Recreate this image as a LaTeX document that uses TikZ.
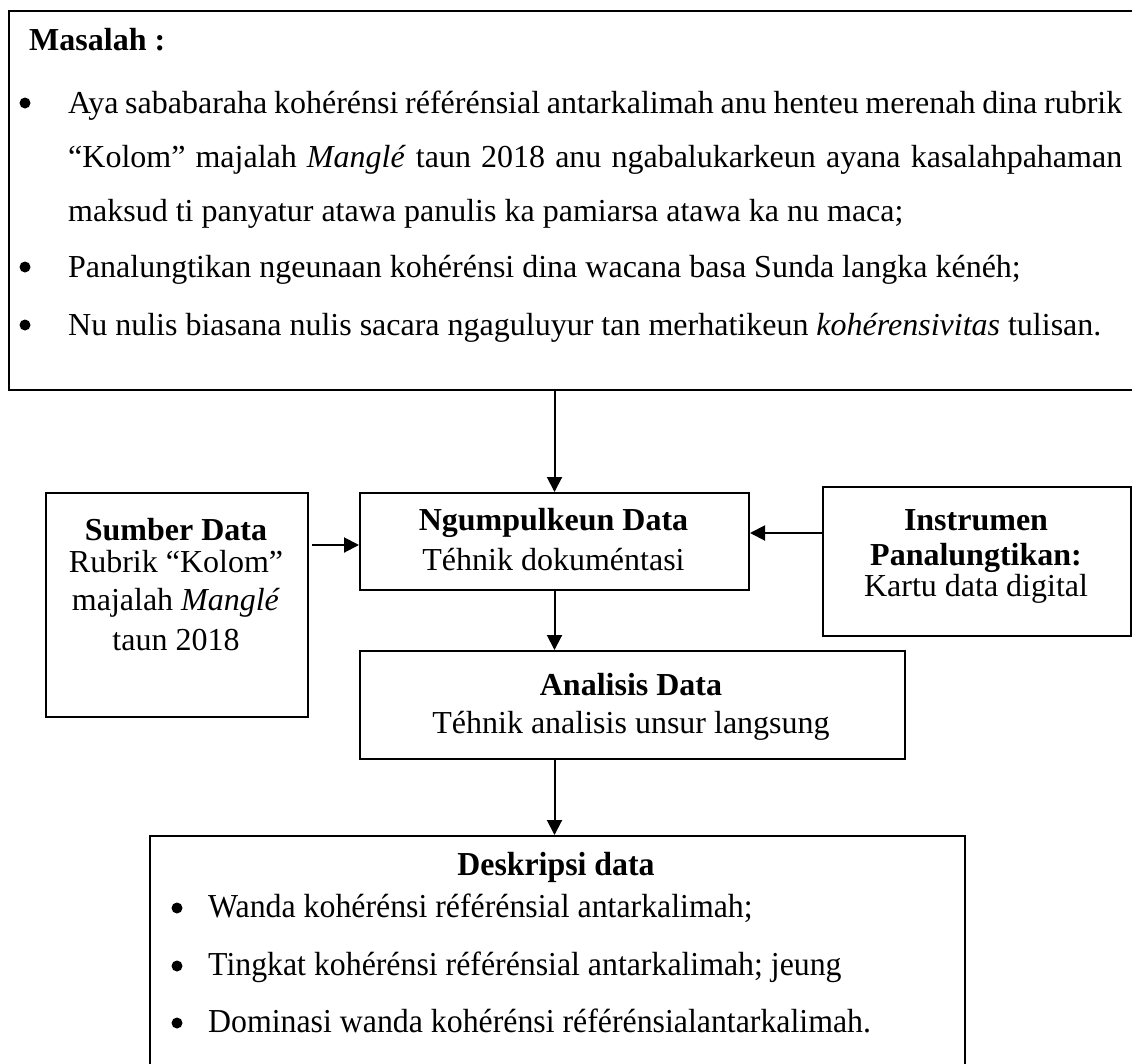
\documentclass[tikz,border=0pt]{standalone}
\usepackage{fontspec}
\setmainfont{Liberation Serif}
\newfontfamily\condfont[FakeStretch=0.95]{Liberation Serif}
\usetikzlibrary{arrows.meta,calc}
\begin{document}
\begin{tikzpicture}[x=1pt,y=-1pt,
  box/.style={draw, line width=2pt, inner sep=0pt, anchor=north west},
  txt/.style={inner sep=0pt, anchor=base west, font=\fontsize{32}{38}\selectfont},
  ctr/.style={txt, anchor=base},
  bld/.style={ctr, font=\fontsize{32}{38}\selectfont\bfseries},
  btxt/.style={txt, font=\condfont\fontsize{33.5}{40}\selectfont},
  dot/.style={circle, fill, inner sep=0pt, minimum size=11pt},
  arr/.style={line width=2pt, -{Triangle[length=15pt,width=15pt]}}]
\clip (0,0) rectangle (1132,1063);
\fill[white] (0,0) rectangle (1132,1063);
% boxes
\node[box, minimum width=1150, minimum height=379] (top) at (8,10) {};
\node[box, minimum width=262, minimum height=224] (sumber) at (45,492) {};
\node[box, minimum width=389, minimum height=97] (ngum) at (359,492) {};
\node[box, minimum width=308, minimum height=149] (inst) at (822,486) {};
\node[box, minimum width=545, minimum height=108] (anal) at (359,650) {};
\node[box, minimum width=815, minimum height=260] (desk) at (149,835) {};
% top box text
\node[txt, font=\fontsize{32}{38}\selectfont\bfseries] (t0) at (29,50) {Masalah :};
\node[dot] (b1) at (25,103) {};
\node[dot] (b2) at (25,267) {};
\node[dot] (b3) at (25,325) {};
\node[txt] (t1) at (68,113) {\makebox[1054pt][s]{Aya sababaraha kohérénsi référénsial antarkalimah anu henteu merenah dina rubrik}};
\node[txt] (t2) at (68,167) {\makebox[1054pt][s]{“Kolom” majalah \textit{Manglé} taun 2018 anu ngabalukarkeun ayana kasalahpahaman}};
\node[txt] (t3) at (68,221) {maksud ti panyatur atawa panulis ka pamiarsa atawa ka nu maca;};
\node[txt] (t4) at (68,277) {Panalungtikan ngeunaan kohérénsi dina wacana basa Sunda langka kénéh;};
\node[txt] (t5) at (68,335) {Nu nulis biasana nulis sacara ngaguluyur tan merhatikeun \textit{kohérensivitas} tulisan.};
% sumber
\node[bld] (s1) at (176,540) {Sumber Data};
\node[ctr] (s2) at (176,572) {Rubrik “Kolom”};
\node[ctr] (s3) at (176,610) {majalah \textit{Manglé}};
\node[ctr] (s4) at (176,650) {taun 2018};
% ngumpulkeun
\node[bld] (n1) at (553.5,530) {Ngumpulkeun Data};
\node[ctr] (n2) at (553.5,570) {Téhnik dokuméntasi};
% instrumen
\node[bld] (i1) at (976,530) {Instrumen};
\node[bld] (i2) at (976,565) {Panalungtikan:};
\node[ctr] (i3) at (976,596) {Kartu data digital};
% analisis
\node[bld] (a1) at (631,695) {Analisis Data};
\node[ctr] (a2) at (631,733) {Téhnik analisis unsur langsung};
% deskripsi
\node[ctr, font=\condfont\fontsize{33.5}{40}\selectfont\bfseries] (d0) at (556,875) {Deskripsi data};
\node[dot] (db1) at (177,908) {};
\node[dot] (db2) at (177,966) {};
\node[dot] (db3) at (177,1023) {};
\node[btxt] (d1) at (208,917) {Wanda kohérénsi référénsial antarkalimah;};
\node[btxt] (d2) at (208,975) {Tingkat kohérénsi référénsial antarkalimah; jeung};
\node[btxt] (d3) at (208,1032) {Dominasi wanda kohérénsi référénsialantarkalimah.};
% connectors
\draw[arr] (ngum.north |- top.south) -- (ngum.north);
\draw[arr] ($(sumber.east |- 0,545)+(3,0)$) -- (ngum.west |- 0,545);
\draw[arr] (inst.west |- 0,533) -- (ngum.east |- 0,533);
\draw[arr] (ngum.south) -- (ngum.south |- anal.north);
\draw[arr] (ngum.south |- anal.south) -- (ngum.south |- desk.north);
\end{tikzpicture}
\end{document}
